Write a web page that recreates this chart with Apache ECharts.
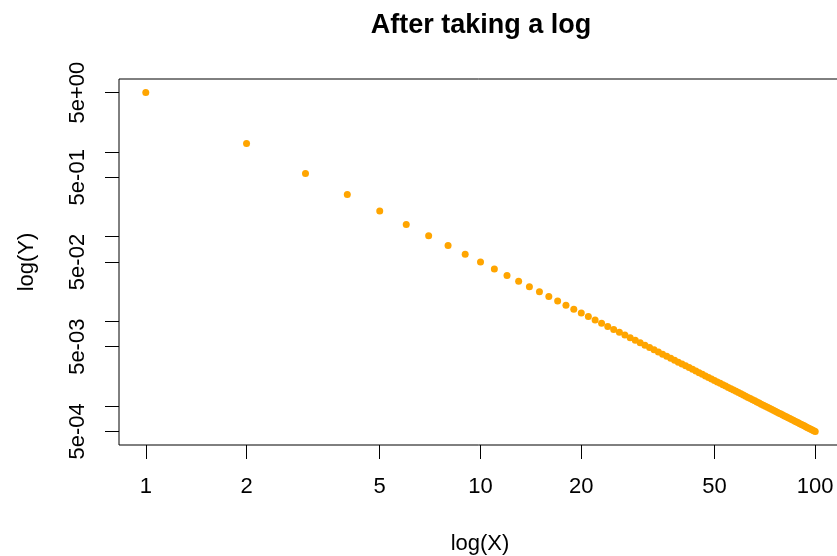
<!DOCTYPE html>
<html>
<head>
<meta charset="utf-8">
<script src="https://cdn.jsdelivr.net/npm/echarts@6/dist/echarts.min.js"></script>
<style>html,body{margin:0;padding:0;background:#fff;}#c{width:837px;height:556px;}</style>
</head>
<body>
<div id="c"></div>
<script>
var xValues = [1,2,3,4,5,6,7,8,9,10,11,12,13,14,15,16,17,18,19,20,21,22,23,24,25,26,27,28,29,30,31,32,33,34,35,36,37,38,39,40,41,42,43,44,45,46,47,48,49,50,51,52,53,54,55,56,57,58,59,60,61,62,63,64,65,66,67,68,69,70,71,72,73,74,75,76,77,78,79,80,81,82,83,84,85,86,87,88,89,90,91,92,93,94,95,96,97,98,99,100];
var yValues = [5,1.25,0.5556,0.3125,0.2,0.1389,0.1020,0.07813,0.06173,0.05,
0.04132,0.03472,0.02959,0.02551,0.02222,0.01953,0.01730,0.01543,0.01385,0.0125,
0.01134,0.01033,0.009452,0.008681,0.008,0.007396,0.006859,0.006378,0.005945,0.005556,
0.005203,0.004883,0.004591,0.004325,0.004082,0.003858,0.003652,0.003463,0.003287,0.003125,
0.002974,0.002834,0.002704,0.002583,0.002469,0.002363,0.002263,0.002170,0.002082,0.002,
0.001922,0.001849,0.001780,0.001715,0.001653,0.001594,0.001539,0.001486,0.001436,0.001389,
0.001344,0.001301,0.001260,0.001221,0.001183,0.001148,0.001114,0.001081,0.001050,0.001020,
0.0009919,0.0009645,0.0009383,0.0009131,0.0008889,0.0008657,0.0008433,0.0008218,0.0008012,0.0007813,
0.0007621,0.0007436,0.0007258,0.0007086,0.0006920,0.0006760,0.0006606,0.0006457,0.0006312,0.0006173,
0.0006038,0.0005907,0.0005781,0.0005659,0.0005540,0.0005425,0.0005314,0.0005206,0.0005102,0.0005];
var xTickValues = [1,2,5,10,20,50,100];
var xTickLabels = ['1','2','5','10','20','50','100'];
var yTickValues = [5,1,0.5,0.1,0.05,0.01,0.005,0.001,0.0005];
var yLabelValues = [5,0.5,0.05,0.005,0.0005];
var yLabelTexts = ['5e+00','5e-01','5e-02','5e-03','5e-04'];
var titleText = 'After taking a log';
var xTitle = 'log(X)';
var yTitle = 'log(Y)';

function nearestLabel(v, vals, texts) {
  var best = 0, bd = Infinity;
  for (var i = 0; i < vals.length; i++) {
    var d = Math.abs(Math.log10(v) - Math.log10(vals[i]));
    if (d < bd) { bd = d; best = i; }
  }
  return texts[best];
}

var FONT = '"Liberation Sans", Arial, Helvetica, sans-serif';
var chart = echarts.init(document.getElementById('c'), null, {renderer: 'canvas'});
var pts = xValues.map(function (x, i) { return [x, yValues[i]]; });

chart.setOption({
  animation: false,
  backgroundColor: '#ffffff',
  grid: {left: 119, top: 79, width: 723, height: 366, outerBoundsMode: 'none', containLabel: false,
    show: true, borderColor: '#000', borderWidth: 1, backgroundColor: 'transparent'},
  xAxis: {
    type: 'log', logBase: 10,
    min: 0.83176, max: 120.226,
    axisLine: {show: false},
    splitLine: {show: false},
    minorTick: {show: false},
    axisTick: {show: true, inside: false, length: 14, lineStyle: {color: '#000', width: 1}, customValues: xTickValues},
    axisLabel: {show: true, margin: 31, fontSize: 22, fontFamily: FONT, color: '#000', customValues: xTickValues,
      formatter: function (v) { return nearestLabel(v, xTickValues, xTickLabels); }}
  },
  yAxis: {
    type: 'log', logBase: 10,
    min: 0.00034588, max: 7.2263,
    axisLine: {show: false},
    splitLine: {show: false},
    minorTick: {show: false},
    axisTick: {show: true, inside: false, length: 14, lineStyle: {color: '#000', width: 1}, customValues: yTickValues},
    axisLabel: {show: true, margin: 30, rotate: 90, fontSize: 22, fontFamily: FONT, color: '#000', customValues: yLabelValues,
      formatter: function (v) { return nearestLabel(v, yLabelValues, yLabelTexts); }}
  },
  series: [{
    type: 'scatter',
    data: pts,
    symbol: 'circle',
    symbolSize: 7,
    itemStyle: {color: '#FFA500', opacity: 1}
  }],
  graphic: [
    {type: 'text', x: 481, y: 26, style: {text: titleText, font: 'bold 27px ' + FONT, fill: '#000', textAlign: 'center', textVerticalAlign: 'middle'}},
    {type: 'text', x: 480, y: 544, style: {text: xTitle, font: '22px ' + FONT, fill: '#000', textAlign: 'center', textVerticalAlign: 'middle'}},
    {type: 'text', x: 27, y: 262, rotation: Math.PI / 2, style: {text: yTitle, font: '22px ' + FONT, fill: '#000', textAlign: 'center', textVerticalAlign: 'middle'}}
  ]
});
</script>
</body>
</html>
